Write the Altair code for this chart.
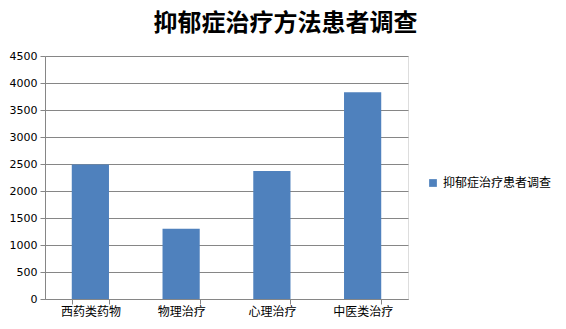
import altair as alt
import pandas as pd

categories = ["西药类药物", "物理治疗", "心理治疗", "中医类治疗"]
values = [2490, 1300, 2370, 3830]
series_name = "抑郁症治疗患者调查"
title_text = "抑郁症治疗方法患者调查"
y_ticks = [0, 500, 1000, 1500, 2000, 2500, 3000, 3500, 4000, 4500]

df = pd.DataFrame({"cat": categories, "val": values, "series": [series_name] * len(categories)})

chart = alt.Chart(df).mark_bar(color="#4F81BD").encode(
    x=alt.X("cat:N", sort=categories, title=None,
            scale=alt.Scale(paddingInner=0.59, paddingOuter=0.295),
            axis=alt.Axis(labelAngle=0, labelFont="Noto Sans CJK SC", labelFontSize=12,
                          labelColor="#000000", domainColor="#868686", tickColor="#868686",
                          tickBand="extent", tickSize=5, labelPadding=2, grid=False)),
    y=alt.Y("val:Q", title=None,
            scale=alt.Scale(domain=[0, 4500], nice=False),
            axis=alt.Axis(values=y_ticks, format="d", labelFont="DejaVu Sans", labelFontSize=11,
                          labelColor="#000000", domainColor="#868686", tickColor="#868686",
                          gridColor="#868686", gridWidth=1, tickSize=5, labelPadding=3)),
    color=alt.Color("series:N", scale=alt.Scale(range=["#4F81BD"]),
                    legend=alt.Legend(title=None, orient="none", legendX=382, legendY=121,
                                      symbolType="square", symbolSize=60, symbolStrokeWidth=0,
                                      labelFont="Noto Sans CJK SC", labelFontSize=12,
                                      labelColor="#000000")),
).properties(
    width=363, height=243,
    title=alt.TitleParams(title_text, font="Noto Sans CJK SC", fontSize=24, fontWeight="bold",
                          color="#000000", anchor="middle", dx=59, offset=14),
    autosize=alt.AutoSizeParams(type="none"),
    padding={"left": 45, "top": 56, "right": 158, "bottom": 30},
).configure_view(stroke=None).configure(background="#ffffff")

chart.save("out.html", embed_options={"renderer": "svg", "actions": False})
